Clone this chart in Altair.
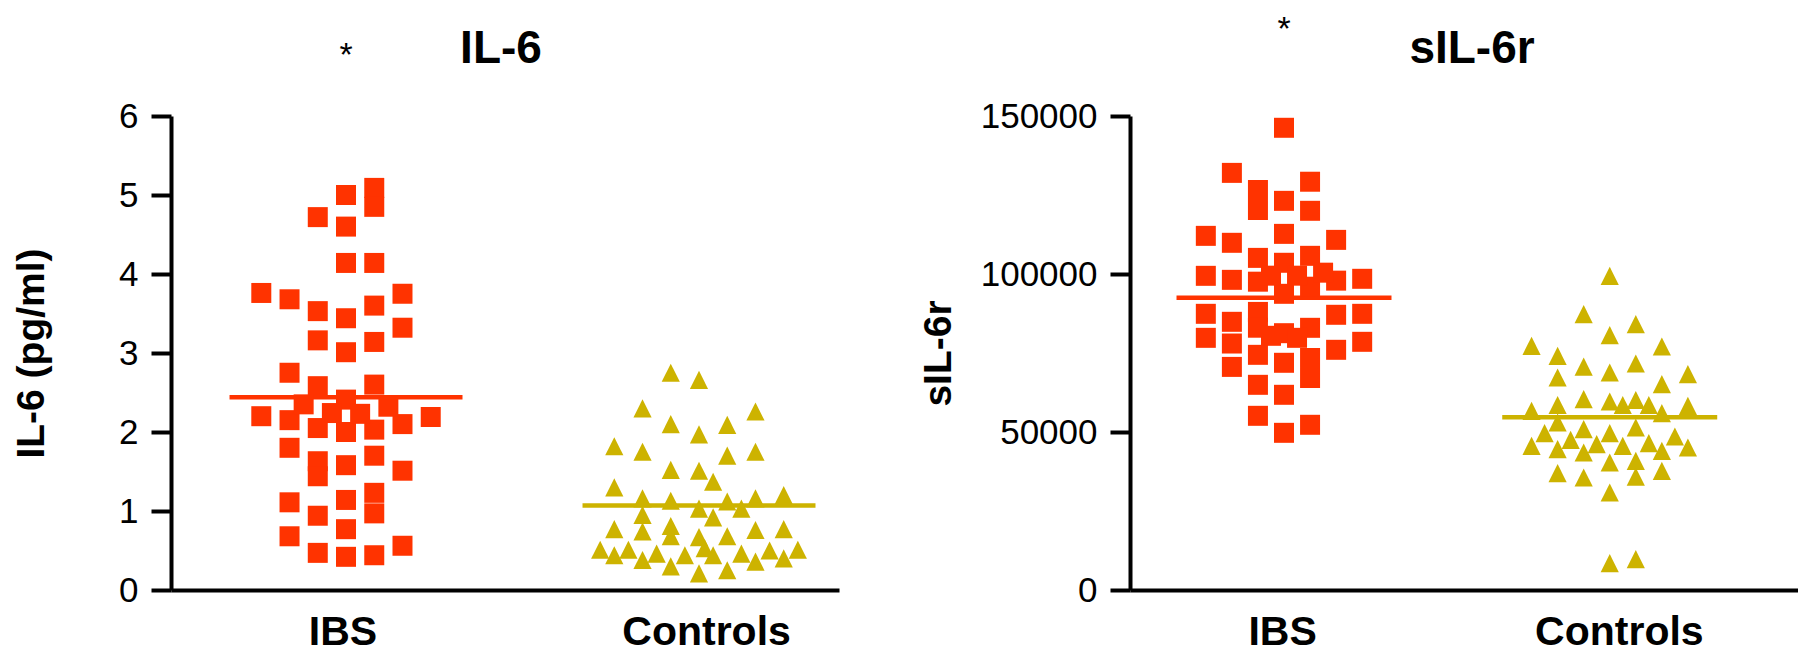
import json
import altair as alt
import pandas as pd

FONT = "Liberation Sans"
GROUPS = ["IBS", "Controls"]
COLORS = ["#FF3300", "#CDB300"]

# ---------------- IL-6 (pg/ml) panel ----------------
# column = horizontal scatter slot of each point (in column steps), value = IL-6
IL6_IBS_COL = [-3, -3,
               -2, -2, -2, -2, -2, -2,
               -1, -1, -1, -1, -1, -1, -1, -1, -1,
               0, 0, 0, 0, 0, 0, 0, 0, 0, 0, 0,
               1, 1, 1, 1, 1, 1, 1, 1, 1, 1, 1,
               2, 2, 2, 2, 2,
               3,
               -1.5, -0.5, 0.5, 1.5]
IL6_IBS_VAL = [3.76, 2.20,
               3.68, 2.75, 2.15, 1.80, 1.11, 0.68,
               4.72, 3.53, 3.16, 2.58, 2.05, 1.63, 1.44, 0.94, 0.47,
               5.00, 4.60, 4.14, 3.44, 3.01, 2.41, 2.00, 1.58, 1.14, 0.77, 0.42,
               5.09, 4.85, 4.14, 3.60, 3.14, 2.60, 2.03, 1.70, 1.23, 0.97, 0.44,
               3.75, 3.32, 2.10, 1.51, 0.56,
               2.19,
               2.35, 2.24, 2.23, 2.32]
IL6_CTRL_COL = [-3, -3, -3, -3,
                -3.5, -2.5,
                -2, -2, -2, -2, -2, -2,
                -1.5,
                -1, -1, -1, -1, -1, -1, -1,
                -0.5,
                0, 0, 0, 0, 0, 0,
                0.2,
                0.5, 0.5, 0.5,
                1, 1, 1, 1, 1,
                1.5, 1.5,
                2, 2, 2, 2, 2,
                2.5,
                3, 3, 3,
                3.5]
IL6_CTRL_VAL = [1.82, 1.30, 0.77, 0.44,
                0.51, 0.51,
                2.30, 1.75, 1.16, 0.95, 0.74, 0.38,
                0.46,
                2.75, 2.10, 1.52, 1.13, 0.81, 0.68, 0.30,
                0.44,
                2.66, 1.97, 1.51, 1.03, 0.67, 0.21,
                0.53,
                1.37, 0.92, 0.44,
                2.09, 1.70, 1.12, 0.68, 0.25,
                1.03, 0.46,
                2.26, 1.75, 1.16, 0.76, 0.36,
                0.50,
                1.20, 0.77, 0.40,
                0.51]
IL6_MEANS = [2.44, 1.07]
IL6_STAR = 6.63
IL6_TICKS = [0, 1, 2, 3, 4, 5, 6]
IL6_LABEL_POS = [-0.01, 1.02]

# ---------------- sIL-6r panel ----------------
SIL_IBS_COL = [0, 0, 0, 0, 0, 0, 0, 0, 0,
               -2, -2, -2, -2, -2, -2,
               -1, -1, -1, -1, -1, -1, -1, -1, -1,
               1, 1, 1, 1, 1, 1, 1, 1,
               -3, -3, -3, -3,
               2, 2, 2, 2,
               3, 3, 3,
               -0.5, -0.5,
               0.5, 0.5,
               1.5]
SIL_IBS_VAL = [146270, 123150, 112700, 103550, 93730, 81270, 71900, 61770, 49740,
               132000, 109870, 98150, 84870, 78000, 70600,
               126580, 120250, 105100, 97570, 88000, 83000, 74420, 64930, 55120,
               129200, 120000, 105750, 95980, 82970, 73420, 67090, 52280,
               112070, 99420, 87400, 79800,
               110800, 97900, 87090, 76010,
               98480, 87400, 78540,
               99470, 80440,
               99470, 79800,
               100420]
SIL_CTRL_COL = [0, 0, 0, 0, 0, 0, 0, 0,
                -1, -1, -1, -1, -1, -1,
                1, 1, 1, 1, 1, 1, 1,
                -3, -3, -3,
                2, 2, 2, 2, 2,
                -2, -2, -2, -2, -2, -2,
                3, 3, 3,
                0.5, 0.5,
                1.5, 1.5,
                -2.5, 2.5, -1.5, -0.5]
SIL_CTRL_VAL = [99430, 80640, 68830, 59650, 49630, 40350, 30860, 8490,
                87280, 70670, 60390, 50890, 43510, 35600,
                84120, 71680, 60130, 51430, 40880, 35860, 9750,
                77270, 56700, 45620,
                77060, 65140, 55950, 44050, 37720,
                74100, 67250, 58550, 53010, 44560, 36960,
                68300, 58290, 45090,
                58550, 45620,
                58550, 46460,
                49630, 48580, 47530, 46150]
SIL_MEANS = [92500, 54700]
SIL_STAR = 174050
SIL_TICKS = [0, 50000, 100000, 150000]
SIL_LABEL_POS = [-0.006, 1.028]

COL_STEP = 0.08
HALF_MEAN = 0.33
W, H = 668, 474


def points_frame(ibs_col, ibs_val, ctrl_col, ctrl_val):
    rows = []
    for c, v in zip(ibs_col, ibs_val):
        rows.append({"group": GROUPS[0], "gi": 0, "col": c, "value": v})
    for c, v in zip(ctrl_col, ctrl_val):
        rows.append({"group": GROUPS[1], "gi": 1, "col": c, "value": v})
    return pd.DataFrame(rows)


def panel(pts, means, star, ticks, label_pos, ytitle, title, xdom, title_x, head_x):
    xs = alt.Scale(domain=xdom, nice=False, zero=False)
    ys = alt.Scale(domain=[0, ticks[-1]], nice=False, zero=False)
    color = alt.Color("group:N", scale=alt.Scale(domain=GROUPS, range=COLORS), legend=None)
    x_axis = alt.Axis(values=label_pos, labelExpr=json.dumps(GROUPS) + "[round(datum.value)]",
                      title=None, ticks=False, grid=False, domainWidth=4, domainColor="black",
                      labelFont=FONT, labelFontSize=41, labelFontWeight="bold", labelColor="black",
                      labelPadding=22, labelFlush=False, labelOverlap=False)
    y_axis = alt.Axis(values=ticks, format="d", grid=False, tickSize=20, tickWidth=4,
                      tickColor="black", domainWidth=4, domainColor="black",
                      labelFont=FONT, labelFontSize=35, labelColor="black", labelPadding=13,
                      title=ytitle, titleFont=FONT, titleFontSize=39, titleFontWeight="bold",
                      titleColor="black", titleAngle=-90, titleX=title_x, titleY=H / 2,
                      titleBaseline="middle", titleAlign="center")
    mean_df = pd.DataFrame({"group": GROUPS, "gi": [0, 1], "mean": means})
    rule = alt.Chart(mean_df).transform_calculate(
        x0=f"datum.gi - {HALF_MEAN}", x1=f"datum.gi + {HALF_MEAN}"
    ).mark_rule(strokeWidth=4.5).encode(
        x=alt.X("x0:Q", scale=xs, axis=x_axis), x2="x1:Q",
        y=alt.Y("mean:Q", scale=ys, axis=y_axis), color=color)
    base = alt.Chart(pts).transform_calculate(xpos=f"datum.gi + datum.col * {COL_STEP}")
    sq = base.transform_filter(alt.datum.gi == 0).mark_square(size=400, opacity=1).encode(
        x=alt.X("xpos:Q", scale=xs, axis=x_axis), y=alt.Y("value:Q", scale=ys, axis=y_axis), color=color)
    tri = base.transform_filter(alt.datum.gi == 1).mark_point(
        shape="M0,-1L1,1L-1,1Z", size=330, filled=True, opacity=1, strokeWidth=0).encode(
        x=alt.X("xpos:Q", scale=xs, axis=x_axis), y=alt.Y("value:Q", scale=ys, axis=y_axis), color=color)
    star_df = pd.DataFrame({"gi": [0], "level": [star]})
    st = alt.Chart(star_df).mark_text(text="*", font=FONT, fontSize=34, baseline="alphabetic",
                                      align="center", color="black").encode(
        x=alt.X("gi:Q", scale=xs, axis=x_axis), y=alt.Y("level:Q", scale=ys, axis=y_axis))
    head = alt.Chart(pd.DataFrame({"t": [title]})).mark_text(
        font=FONT, fontSize=46, fontWeight="bold", baseline="alphabetic", align="center",
        color="black").encode(text="t:N", x=alt.value(head_x), y=alt.value(-53))
    return alt.layer(rule, sq, tri, st, head).properties(width=W, height=H)


left = panel(points_frame(IL6_IBS_COL, IL6_IBS_VAL, IL6_CTRL_COL, IL6_CTRL_VAL),
             IL6_MEANS, IL6_STAR, IL6_TICKS, IL6_LABEL_POS, "IL-6 (pg/ml)", "IL-6",
             [-0.4958, 1.3966], -140, 330)
right = panel(points_frame(SIL_IBS_COL, SIL_IBS_VAL, SIL_CTRL_COL, SIL_CTRL_VAL),
              SIL_MEANS, SIL_STAR, SIL_TICKS, SIL_LABEL_POS, "sIL-6r", "sIL-6r",
              [-0.4728, 1.578], -192, 342)

chart = alt.hconcat(left, right, spacing=291, bounds="flush").properties(
    padding={"left": 3, "top": 5, "right": 0, "bottom": 0},
    background="white",
).configure_view(stroke=None)

chart.save("out.html", embed_options={"renderer": "svg", "actions": False})
